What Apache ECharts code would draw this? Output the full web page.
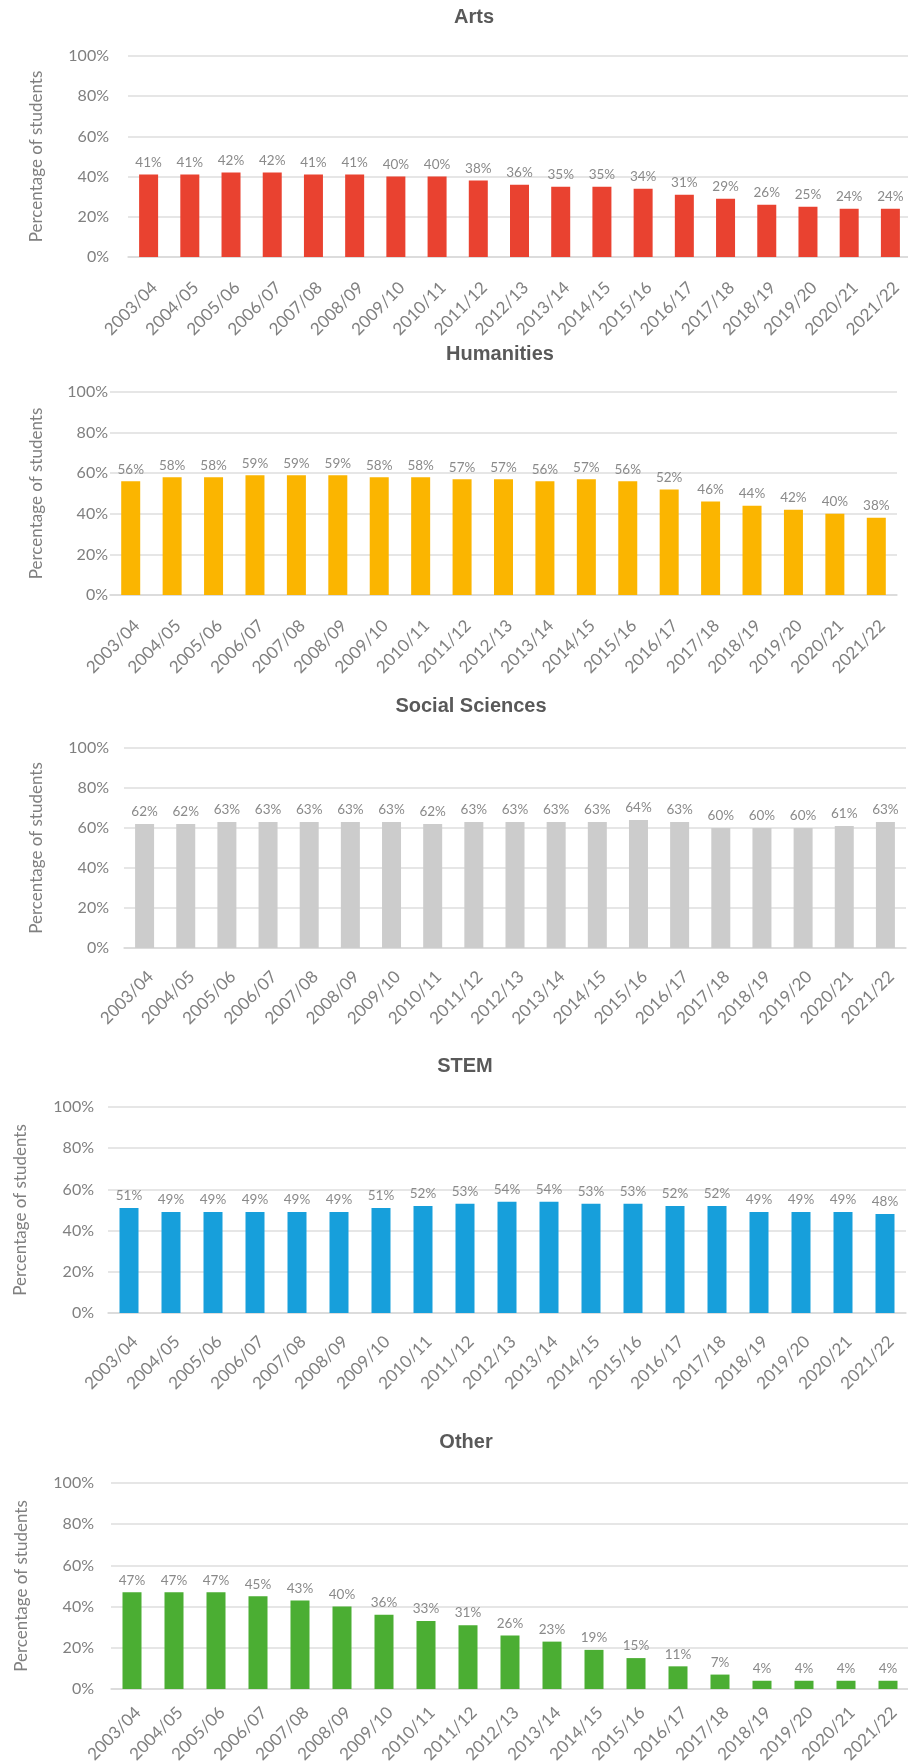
<!DOCTYPE html>
<html>
<head>
<meta charset="utf-8">
<script src="https://cdn.jsdelivr.net/npm/echarts@6/dist/echarts.min.js"></script>
<style>
  html, body { margin: 0; padding: 0; background: #ffffff; }
  #chart { width: 908px; height: 1764px; }
</style>
</head>
<body>
<div id="chart"></div>
<script>
// Academic years shown on every panel
const years = ['2003/04', '2004/05', '2005/06', '2006/07', '2007/08', '2008/09', '2009/10',
  '2010/11', '2011/12', '2012/13', '2013/14', '2014/15', '2015/16', '2016/17', '2017/18',
  '2018/19', '2019/20', '2020/21', '2021/22'];

// Percentage of students per subject group
const arts = [41, 41, 42, 42, 41, 41, 40, 40, 38, 36, 35, 35, 34, 31, 29, 26, 25, 24, 24];
const humanities = [56, 58, 58, 59, 59, 59, 58, 58, 57, 57, 56, 57, 56, 52, 46, 44, 42, 40, 38];
const socialSciences = [62, 62, 63, 63, 63, 63, 63, 62, 63, 63, 63, 63, 64, 63, 60, 60, 60, 61, 63];
const stem = [51, 49, 49, 49, 49, 49, 51, 52, 53, 54, 54, 53, 53, 52, 52, 49, 49, 49, 48];
const other = [47, 47, 47, 45, 43, 40, 36, 33, 31, 26, 23, 19, 15, 11, 7, 4, 4, 4, 4];

// Y axis ticks (percent)
const yTicks = [0, 20, 40, 60, 80, 100];
const yAxisTitle = 'Percentage of students';

// One panel per subject group, stacked vertically
const panels = [
  { title: 'Arts', data: arts, color: '#E94230',
    titleX: 474, titleY: 18, left: 128, top: 56, width: 783, height: 201,
    labelMargin: 19, nameGap: 83, xMargin: 22 },
  { title: 'Humanities', data: humanities, color: '#FBB500',
    titleX: 500, titleY: 355, left: 110, top: 392, width: 787, height: 203,
    labelMargin: 2, nameGap: 65, xMargin: 22 },
  { title: 'Social Sciences', data: socialSciences, color: '#CCCCCC',
    titleX: 471, titleY: 707, left: 124, top: 748, width: 782, height: 200,
    labelMargin: 15, nameGap: 79, xMargin: 20 },
  { title: 'STEM', data: stem, color: '#179FDB',
    titleX: 465, titleY: 1067, left: 108, top: 1107, width: 798, height: 206,
    labelMargin: 14, nameGap: 79, xMargin: 20 },
  { title: 'Other', data: other, color: '#4BAE33',
    titleX: 466, titleY: 1443, left: 111, top: 1483, width: 798, height: 206,
    labelMargin: 17, nameGap: 81, xMargin: 15 }
];

const textFont = 'Lato, "Open Sans", sans-serif';
const grey = '#808080';

const option = {
  animation: false,
  backgroundColor: '#ffffff',
  title: panels.map(p => ({
    text: p.title,
    left: p.titleX,
    top: p.titleY - 11,
    textAlign: 'center',
    padding: 0,
    textStyle: { fontFamily: '"Liberation Sans", Arial, sans-serif', fontSize: 20, fontWeight: 'bold', color: '#595959' }
  })),
  // fixed plot boxes; labels may run past the canvas edge
  grid: panels.map(p => ({
    left: p.left, top: p.top, width: p.width, height: p.height,
    containLabel: false, outerBoundsMode: 'none'
  })),
  xAxis: panels.map((p, i) => ({
    type: 'category',
    gridIndex: i,
    data: years,
    axisTick: { show: false },
    axisLine: { show: true, lineStyle: { color: '#d9d9d9', width: 1.5 } },
    axisLabel: {
      interval: 0, rotate: 45, margin: p.xMargin,
      verticalAlign: 'top',
      fontFamily: textFont, fontSize: 17, color: grey
    }
  })),
  yAxis: panels.map((p, i) => ({
    type: 'value',
    gridIndex: i,
    min: yTicks[0],
    max: yTicks[yTicks.length - 1],
    interval: yTicks[1] - yTicks[0],
    name: yAxisTitle,
    nameLocation: 'middle',
    nameGap: p.nameGap,
    nameTextStyle: { fontFamily: textFont, fontSize: 17, color: grey },
    axisLine: { show: false },
    axisTick: { show: false },
    splitLine: { lineStyle: { color: '#dedede', width: 1.5 } },
    axisLabel: {
      margin: p.labelMargin,
      formatter: '{value}%',
      fontFamily: textFont, fontSize: 16, color: grey
    }
  })),
  series: panels.map((p, i) => ({
    type: 'bar',
    name: p.title,
    xAxisIndex: i,
    yAxisIndex: i,
    data: p.data,
    barWidth: 19,
    itemStyle: { color: p.color },
    label: {
      show: true,
      position: 'top',
      distance: 5,
      formatter: '{c}%',
      fontFamily: textFont,
      fontSize: 13.5,
      color: '#8a8a8a'
    }
  }))
};

const chart = echarts.init(document.getElementById('chart'), null, { renderer: 'canvas' });
chart.setOption(option);
</script>
</body>
</html>
